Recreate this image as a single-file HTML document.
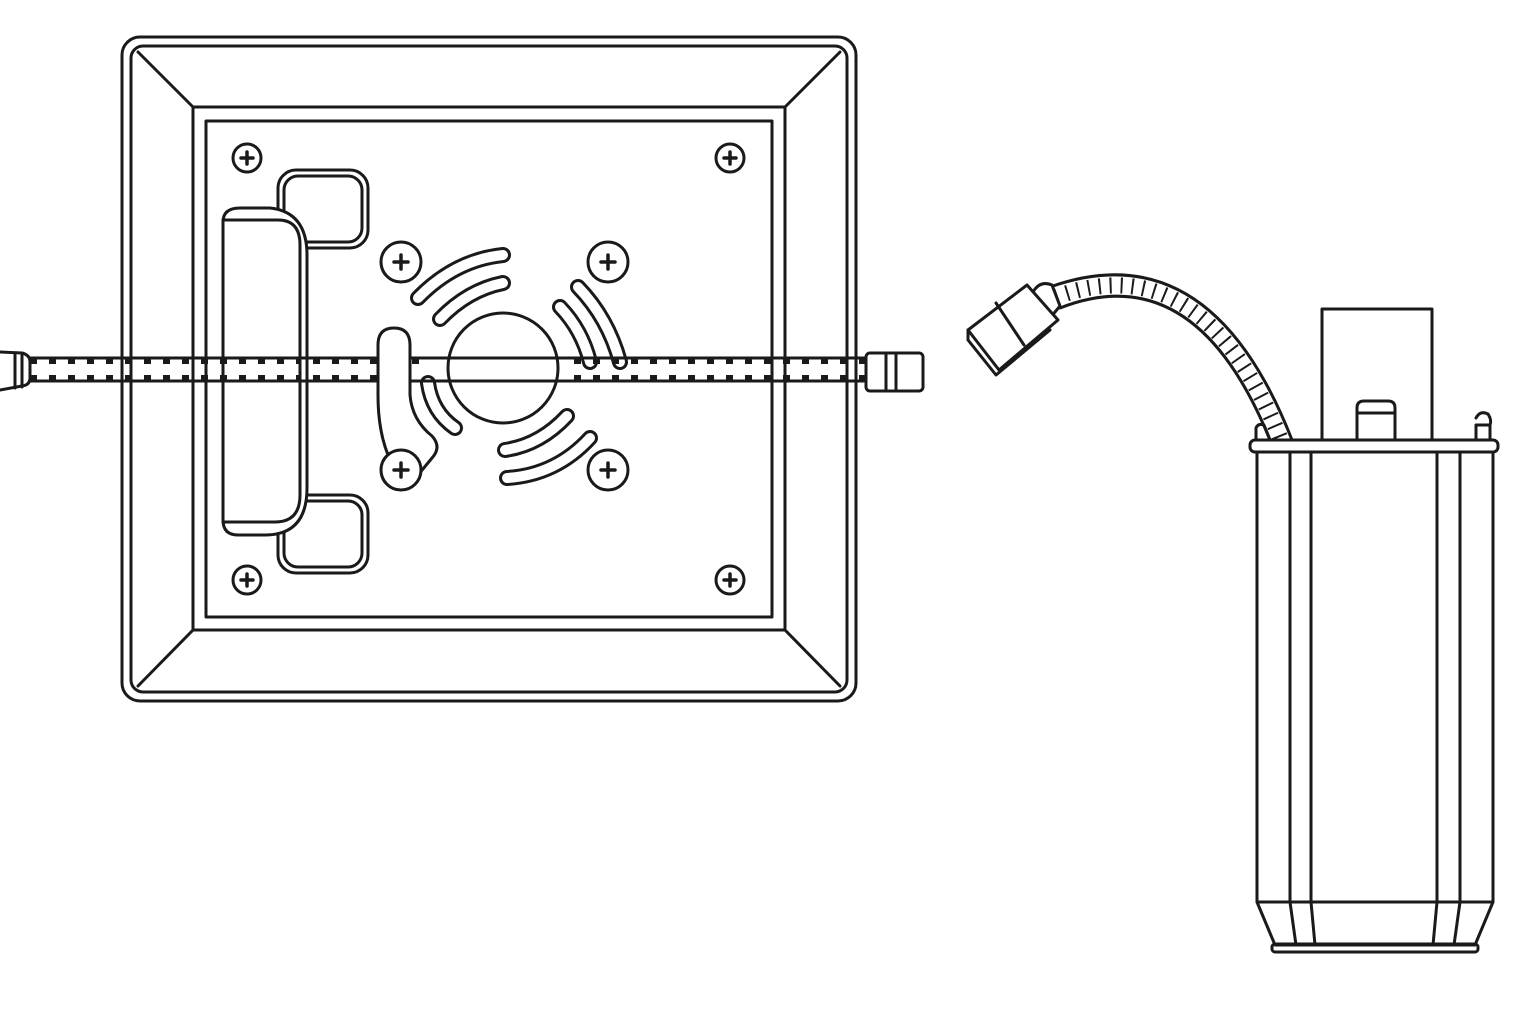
<!DOCTYPE html>
<html><head><meta charset="utf-8"><style>html,body{margin:0;padding:0;background:#fff}svg{display:block}</style></head>
<body>
<svg width="1536" height="1024" viewBox="0 0 1536 1024" xmlns="http://www.w3.org/2000/svg" fill="none" stroke="#1a1a1a" stroke-width="3" stroke-linejoin="round" stroke-linecap="round">
<!-- frame -->
<rect x="122" y="37" width="734" height="664" rx="18"/>
<rect x="131" y="46" width="716" height="646" rx="12"/>
<rect x="193" y="107" width="592" height="523"/>
<rect x="206" y="121" width="566" height="496"/>
<line x1="138" y1="52" x2="193" y2="107"/>
<line x1="840" y1="52" x2="785" y2="107"/>
<line x1="138" y1="686" x2="193" y2="630"/>
<line x1="840" y1="686" x2="785" y2="630"/>
<!-- brackets -->
<rect x="278" y="170" width="90" height="78" rx="18"/>
<rect x="284" y="176" width="78" height="66" rx="14"/>
<rect x="278" y="495" width="90" height="78" rx="18"/>
<rect x="284" y="501" width="78" height="66" rx="14"/>
<!-- handle -->
<path d="M223,222 Q223,208 240,208 H270 Q307,212 307,255 V488 Q307,535 265,535 H238 Q223,535 223,520 Z" fill="#fff"/>
<path d="M223,220 H278 Q300,220 300,245 V495 Q300,522 275,522 H223"/>
<!-- slots -->
<g>
<path d="M418,298 Q455,260 503,255" stroke-width="16"/>
<path d="M418,298 Q455,260 503,255" stroke="#fff" stroke-width="10"/>
<path d="M440,319 Q468,290 503,283" stroke-width="16"/>
<path d="M440,319 Q468,290 503,283" stroke="#fff" stroke-width="10"/>
<path d="M578,287 Q608,318 620,362" stroke-width="16"/>
<path d="M578,287 Q608,318 620,362" stroke="#fff" stroke-width="10"/>
<path d="M560,307 Q582,330 590,362" stroke-width="16"/>
<path d="M560,307 Q582,330 590,362" stroke="#fff" stroke-width="10"/>
<path d="M505,450 Q540,445 567,416" stroke-width="16"/>
<path d="M505,450 Q540,445 567,416" stroke="#fff" stroke-width="10"/>
<path d="M507,478 Q556,475 590,438" stroke-width="16"/>
<path d="M507,478 Q556,475 590,438" stroke="#fff" stroke-width="10"/>
<path d="M428,383 Q432,412 455,428" stroke-width="16"/>
<path d="M428,383 Q432,412 455,428" stroke="#fff" stroke-width="10"/>
</g>
<!-- cable -->
<line x1="30" y1="358" x2="866" y2="358"/><line x1="30" y1="381" x2="866" y2="381"/>
<g stroke-width="5" stroke-dasharray="7 12" stroke-linecap="butt">
<line x1="30" y1="361.5" x2="300" y2="361.5"/><line x1="30" y1="377.5" x2="300" y2="377.5"/>
<line x1="313" y1="361.5" x2="378" y2="361.5"/><line x1="313" y1="377.5" x2="378" y2="377.5"/>
<line x1="574" y1="361.5" x2="866" y2="361.5"/><line x1="574" y1="377.5" x2="866" y2="377.5"/>
</g>
<line x1="412" y1="361.5" x2="426" y2="361.5" stroke-width="5" stroke-dasharray="7 12" stroke-linecap="butt"/>
<rect x="440" y="355" width="130" height="30" fill="#fff" stroke="none"/>
<line x1="440" y1="358" x2="570" y2="358"/><line x1="440" y1="381" x2="570" y2="381"/>
<line x1="222" y1="358" x2="308" y2="358"/><line x1="222" y1="381" x2="308" y2="381"/>
<!-- left slot pill -->
<path d="M394,328 Q410,328 410,345 V395 Q412,420 432,436 Q442,447 432,458 L418,475 L388,455 Q378,430 378,395 V345 Q378,328 394,328 Z" fill="#fff"/>
<circle cx="503" cy="368" r="55"/>
<!-- screws -->
<g fill="#fff">
<circle cx="247" cy="158" r="14"/><circle cx="730" cy="158" r="14"/><circle cx="247" cy="580" r="14"/><circle cx="730" cy="580" r="14"/>
<circle cx="401" cy="262" r="20"/><circle cx="608" cy="262" r="20"/><circle cx="401" cy="470" r="20"/><circle cx="608" cy="470" r="20"/>
</g>
<g stroke-width="3.5">
<path d="M247,152v12M241,158h12M730,152v12M724,158h12M247,574v12M241,580h12M730,574v12M724,580h12"/>
<path d="M401,255v14M394,262h14M608,255v14M601,262h14M401,463v14M394,470h14M608,463v14M601,470h14"/>
</g>
<path d="M0,352 L22,353 Q30,355 30,362 V378 Q30,385 22,386 L0,390"/>
<line x1="15" y1="353" x2="15" y2="388"/><line x1="22" y1="353" x2="22" y2="387"/>
<rect x="866" y="353" width="57" height="38" rx="4" fill="#fff"/>
<line x1="886" y1="353" x2="886" y2="391"/><line x1="896" y1="353" x2="896" y2="391"/>
<!-- right connector -->
<path d="M1050,287 Q1210,230 1292,440"/>
<path d="M1060,308 Q1195,255 1270,440"/>
<path d="M1056,297 Q1202,243 1281,440" stroke-width="16" stroke-dasharray="2 9" stroke-linecap="butt"/>
<path d="M1033,292 Q1040,280 1052,285 L1060,306 L1050,318 Z" fill="#fff"/>
<path d="M968,330 L1027,285 L1058,320 L999,370 Z" fill="#fff"/>
<path d="M968,330 L968,340 L996,375 L1050,330"/>
<line x1="996" y1="303" x2="1024" y2="345"/>
<!-- cylinder -->
<rect x="1322" y="309" width="110" height="131"/>
<path d="M1357,440 V408 Q1357,401 1364,401 H1388 Q1395,401 1395,408 V440"/>
<line x1="1357" y1="413" x2="1395" y2="413"/>
<path d="M1476,440 V425 H1490 V440 M1476,418 Q1480,410 1488,414 Q1492,420 1490,425"/>
<rect x="1250" y="440" width="248" height="12" rx="5" fill="#fff"/>
<path d="M1256,440 V428 Q1258,423 1264,425 L1270,440"/>
<path d="M1257,452 V902 L1275,945 H1475 L1493,902 V452"/>
<line x1="1257" y1="902" x2="1493" y2="902"/>
<rect x="1272" y="944" width="206" height="8" rx="3"/>
<path d="M1290,452 V902 L1296,945 M1311,452 V902 L1315,945 M1437,452 V902 L1433,945 M1460,452 V902 L1454,945"/>
</svg>
</body></html>
